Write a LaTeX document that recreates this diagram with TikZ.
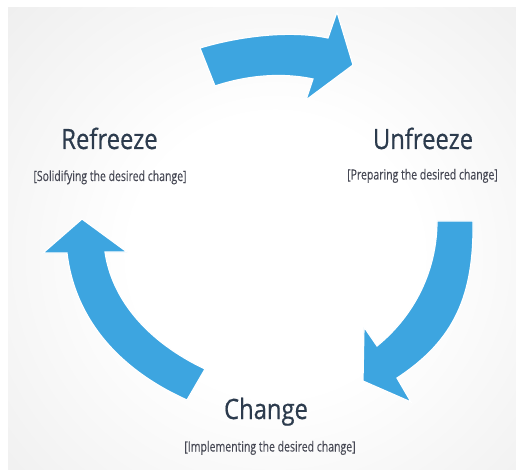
\documentclass[tikz,border=0pt]{standalone}
\usepackage{fontspec}
\setmainfont{Open Sans}
\newfontfamily\titlefont[FakeStretch=0.85,FakeBold=0.5]{Open Sans}
\newfontfamily\notefont[FakeStretch=0.75,FakeBold=0.2]{Open Sans}

\definecolor{arrowblue}{RGB}{61,165,224}
\definecolor{titleink}{RGB}{44,59,77}
\definecolor{noteink}{RGB}{70,72,84}
\definecolor{bgmid}{RGB}{238,238,238}
\definecolor{bgedge}{RGB}{231,231,231}
\definecolor{bgcorner}{RGB}{224,224,224}

\pgfdeclareradialshading{bgglow}{\pgfpoint{0bp}{0bp}}{%
  color(0bp)=(white); color(12bp)=(white); color(32bp)=(bgmid);
  color(48bp)=(bgedge); color(65bp)=(bgcorner)}

\tikzset{
  cyclearrow/.style={fill=arrowblue, draw=white, line width=1.2pt, line join=miter},
  stagetitle/.style={anchor=base, inner sep=0pt, text=titleink,
    font=\titlefont\fontsize{28}{33}\selectfont},
  stagenote/.style={anchor=base, inner sep=0pt, text=noteink,
    font=\notefont\fontsize{14}{17}\selectfont}
}

\begin{document}
\begin{tikzpicture}[x=1pt,y=-1pt]
  \useasboundingbox (0,0) rectangle (516,470);
  \fill[white] (0,0) rectangle (516,470);

  % soft glowing backdrop
  \begin{scope}
    \clip (8,8) rectangle (516,470);
    \shade[shading=bgglow] (-25,-35) rectangle (575,545);
  \end{scope}

  % top arrow: Refreeze -> Unfreeze
  \path[cyclearrow] (200,48) .. controls (240,36) and (290,30) .. (328,38)
    -- (337,12) -- (353,65) -- (306,100) -- (313,79)
    .. controls (280,72) and (245,76) .. (215,86) -- cycle;

  % right arrow: Unfreeze -> Change
  \path[cyclearrow] (437,221) -- (473,221)
    .. controls (474,295) and (455,340) .. (397,378)
    -- (411,402) -- (363,381) -- (364,327) -- (377,346)
    .. controls (415,315) and (437,270) .. (437,221) -- cycle;

  % left arrow: Change -> Refreeze
  \path[cyclearrow] (187,400) -- (205,369)
    .. controls (148,342) and (112,300) .. (105,252)
    -- (127,252) -- (82,219) -- (43,253) -- (67,253)
    .. controls (75,320) and (120,370) .. (187,400) -- cycle;

  % stage labels
  \node[stagetitle] (refreeze) at (109.5,149) {Refreeze};
  \node[stagenote] (refreezenote) at (110,181) {[Solidifying the desired change]};

  \node[stagetitle] (unfreeze) at (423,149) {Unfreeze};
  \node[stagenote] (unfreezenote) at (422.5,179.5) {[Preparing the desired change]};

  \node[stagetitle] (change) at (266,419) {Change};
  \node[stagenote] (changenote) at (270,451.5) {[Implementing the desired change]};
\end{tikzpicture}
\end{document}
